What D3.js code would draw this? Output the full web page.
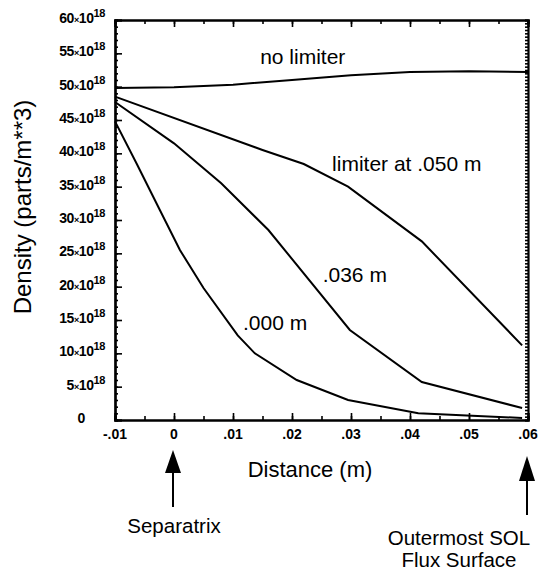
<!DOCTYPE html>
<html>
<head>
<meta charset="utf-8">
<script src="https://cdn.jsdelivr.net/npm/d3@7"></script>
<style>
  body { margin: 0; background: #fff; }
  svg { display: block; }
  .tick-lab { font-family: "Liberation Sans", Arial, sans-serif; font-weight: bold; fill: #000; }
  .txt { font-family: "Liberation Sans", Arial, sans-serif; fill: #000; }
</style>
</head>
<body>
<div id="chart"></div>
<script>
// x tick values and their printed labels
const xTicks = [-0.01, 0, 0.01, 0.02, 0.03, 0.04, 0.05, 0.06];
const xTickLabels = ["-.01", "0", ".01", ".02", ".03", ".04", ".05", ".06"];
// y ticks in units of 10^18 parts/m^3
const yTicks = [0, 5, 10, 15, 20, 25, 30, 35, 40, 45, 50, 55, 60];

// series (x in m, density in 10^18 parts/m^3)
const noLimiterX = [-0.01, 0, 0.01, 0.02, 0.03, 0.04, 0.05, 0.06];
const noLimiterY = [49.8, 49.9, 50.3, 51.0, 51.7, 52.2, 52.3, 52.2];

const lim050X = [-0.01, 0.015, 0.022, 0.0295, 0.042, 0.059];
const lim050Y = [48.5, 40.5, 38.4, 35.0, 26.8, 11.2];

const lim036X = [-0.01, 0, 0.008, 0.016, 0.0298, 0.042, 0.059];
const lim036Y = [47.7, 41.5, 35.5, 28.5, 13.5, 5.7, 1.8];

const lim000X = [-0.01, -0.0063, -0.0024, 0.001, 0.005, 0.0108, 0.0137, 0.0208, 0.0295, 0.0414, 0.059];
const lim000Y = [44.8, 38.4, 31.5, 25.5, 19.8, 12.7, 10.0, 6.0, 3.0, 1.0, 0.3];

function buildChart() {
  const width = 539;
  const height = 575;
  const margin = { left: 115, right: 11, top: 20, bottom: 155 };
  const visWidth = width - margin.left - margin.right;
  const visHeight = height - margin.top - margin.bottom;

  const svg = d3.select("#chart")
    .append("svg")
    .attr("width", width)
    .attr("height", height);

  const xScale = d3.scaleLinear().domain([-0.01, 0.06]).range([0, visWidth]);
  const yScale = d3.scaleLinear().domain([0, 60]).range([visHeight, 0]);

  const g = svg.append("g")
    .attr("transform", `translate(${margin.left}, ${margin.top})`);

  // frame axes, ticks pointing inward
  const minorX = d3.range(-0.01, 0.0601, 0.005);
  const minorY = d3.range(0, 60.1, 1);

  g.append("g")
    .attr("transform", `translate(0, ${visHeight})`)
    .call(d3.axisTop(xScale).tickValues(minorX).tickSize(4).tickFormat(""));
  g.append("g")
    .attr("transform", `translate(0, ${visHeight})`)
    .call(d3.axisTop(xScale).tickValues(xTicks).tickSize(7).tickFormat(""));
  g.append("g")
    .call(d3.axisBottom(xScale).tickValues(minorX).tickSize(4).tickFormat(""));
  g.append("g")
    .call(d3.axisBottom(xScale).tickValues(xTicks).tickSize(7).tickFormat(""));
  g.append("g")
    .call(d3.axisRight(yScale).tickValues(minorY).tickSize(3).tickFormat(""));
  g.append("g")
    .call(d3.axisRight(yScale).tickValues(yTicks).tickSize(7).tickFormat(""));
  g.append("g")
    .attr("transform", `translate(${visWidth}, 0)`)
    .call(d3.axisLeft(yScale).tickValues(d3.range(0, 60.1, 0.5)).tickSize(3).tickFormat(""));

  g.selectAll(".domain").attr("stroke-width", 2.2).attr("stroke", "#000");
  g.selectAll(".tick line").attr("stroke-width", 1.6).attr("stroke", "#000");

  // x tick labels
  g.selectAll(".xlab")
    .data(xTicks)
    .enter()
    .append("text")
    .attr("class", "tick-lab")
    .attr("x", (d) => xScale(d))
    .attr("y", visHeight + 19)
    .attr("text-anchor", "middle")
    .attr("font-size", 14)
    .text((d, i) => xTickLabels[i]);

  // y tick labels with 10^18
  const ylab = g.selectAll(".ylab")
    .data(yTicks)
    .enter()
    .append("text")
    .attr("class", "tick-lab")
    .attr("x", -10)
    .attr("y", (d) => yScale(d) + 3)
    .attr("text-anchor", "end")
    .attr("font-size", 14)
    .attr("letter-spacing", -0.4);
  ylab.filter((d) => d === 0).attr("x", -30).text("0");
  ylab.filter((d) => d !== 0).each(function (d) {
    const t = d3.select(this);
    t.append("tspan").text(d);
    t.append("tspan").attr("font-size", 9).text("\u00d7");
    t.append("tspan").text("10");
    t.append("tspan").attr("dy", -6).attr("font-size", 11).text("18");
  });

  // curves
  const line = d3.line()
    .x((d) => xScale(d[0]))
    .y((d) => yScale(d[1]));

  const series = [
    d3.zip(noLimiterX, noLimiterY),
    d3.zip(lim050X, lim050Y),
    d3.zip(lim036X, lim036Y),
    d3.zip(lim000X, lim000Y)
  ];

  g.selectAll(".curve")
    .data(series)
    .enter()
    .append("path")
    .attr("class", "curve")
    .attr("d", line)
    .attr("fill", "none")
    .attr("stroke", "#000")
    .attr("stroke-width", 2);

  // curve labels
  const curveLabels = [
    { text: "no limiter", x: 0.0146, y: 53.4 },
    { text: "limiter at .050 m", x: 0.0268, y: 37.35 },
    { text: ".036 m", x: 0.0252, y: 20.7 },
    { text: ".000 m", x: 0.0117, y: 13.5 }
  ];
  g.selectAll(".clab")
    .data(curveLabels)
    .enter()
    .append("text")
    .attr("class", "txt")
    .attr("x", (d) => xScale(d.x))
    .attr("y", (d) => yScale(d.y))
    .attr("font-size", 21)
    .text((d) => d.text);

  // axis titles
  svg.append("text")
    .attr("class", "txt")
    .attr("transform", "translate(31, 207) rotate(-90)")
    .attr("text-anchor", "middle")
    .attr("font-size", 24)
    .text("Density (parts/m**3)");

  svg.append("text")
    .attr("class", "txt")
    .attr("x", 310)
    .attr("y", 477)
    .attr("text-anchor", "middle")
    .attr("font-size", 22)
    .text("Distance (m)");

  // arrows under the axis
  const arrows = [
    { x: 0, tip: 450, head: 473, end: 507, lines: ["Separatrix"], lx: 0, ly: 533 },
    { x: 0.06, tip: 456, head: 481, end: 515, lines: ["Outermost SOL", "Flux Surface"], lx: 0.0483, ly: 545 }
  ];
  arrows.forEach((a) => {
    const ax = margin.left + xScale(a.x) - 1;
    svg.append("line")
      .attr("x1", ax).attr("x2", ax)
      .attr("y1", a.head - 2).attr("y2", a.end)
      .attr("stroke", "#000").attr("stroke-width", 2);
    svg.append("path")
      .attr("d", `M${ax},${a.tip} L${ax - 8},${a.head} L${ax + 8},${a.head} Z`)
      .attr("fill", "#000");
    a.lines.forEach((t, i) => {
      svg.append("text")
        .attr("class", "txt")
        .attr("x", margin.left + xScale(a.lx))
        .attr("y", a.ly + i * 22)
        .attr("text-anchor", "middle")
        .attr("font-size", 20.5)
        .text(t);
    });
  });
}

window.onload = buildChart;
</script>
</body>
</html>
